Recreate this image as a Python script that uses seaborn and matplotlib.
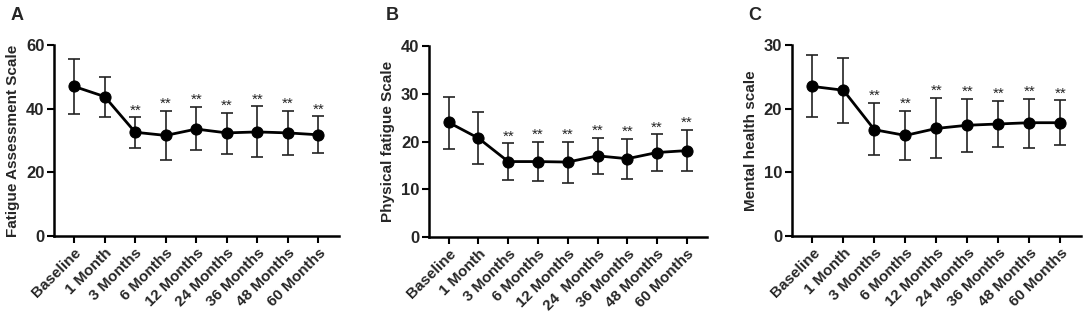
import matplotlib
matplotlib.use("Agg")
import matplotlib.pyplot as plt
import seaborn as sns
import pandas as pd

timepoints = ["Baseline", "1 Month", "3 Months", "6 Months", "12 Months",
              "24 Months", "36 Months", "48 Months", "60 Months"]
# panel B prints "24  Months" with a double space
timepoints_b = ["Baseline", "1 Month", "3 Months", "6 Months", "12 Months",
                "24  Months", "36 Months", "48 Months", "60 Months"]

# Fatigue Assessment Scale
fas_mean = [47.0, 43.8, 32.6, 31.6, 33.6, 32.4, 32.7, 32.4, 31.8]
fas_upper = [55.7, 50.1, 37.3, 39.2, 40.5, 38.8, 40.7, 39.2, 37.6]
fas_lower = [38.3, 37.5, 27.7, 23.9, 26.9, 25.9, 24.7, 25.4, 26.2]

# Physical fatigue Scale
phys_mean = [24.0, 20.7, 15.8, 15.8, 15.7, 17.0, 16.4, 17.7, 18.1]
phys_upper = [29.3, 26.2, 19.6, 19.9, 20.0, 20.7, 20.6, 21.5, 22.4]
phys_lower = [18.5, 15.3, 11.9, 11.7, 11.3, 13.3, 12.2, 13.8, 13.9]

# Mental health scale
ment_mean = [23.5, 22.9, 16.7, 15.8, 16.9, 17.4, 17.6, 17.8, 17.8]
ment_upper = [28.4, 28.0, 20.9, 19.7, 21.7, 21.5, 21.2, 21.5, 21.3]
ment_lower = [18.7, 17.8, 12.8, 12.0, 12.2, 13.2, 14.0, 13.9, 14.3]

# ** marks (p < 0.01 vs baseline)
signif = ["", "", "**", "**", "**", "**", "**", "**", "**"]

sns.set_style("ticks")
plt.rcParams["font.family"] = ["Liberation Sans", "DejaVu Sans"]
plt.rcParams["font.weight"] = "bold"

fig = plt.figure(figsize=(10.84, 3.12), dpi=100)

panels = [
    ("A", "Fatigue Assessment Scale", timepoints, fas_mean, fas_upper, fas_lower,
     60, [0, 20, 40, 60], [0.0498, 0.2436, 0.263, 0.612]),
    ("B", "Physical fatigue Scale", timepoints_b, phys_mean, phys_upper, phys_lower,
     40, [0, 10, 20, 30, 40], [0.3958, 0.2404, 0.2565, 0.612]),
    ("C", "Mental health scale", timepoints, ment_mean, ment_upper, ment_lower,
     30, [0, 10, 20, 30], [0.7306, 0.2436, 0.267, 0.612]),
]

for letter, ylabel, labels, mean, upper, lower, ymax, yticks, rect in panels:
    ax = fig.add_axes(rect)
    df = pd.DataFrame({"pos": range(len(labels)), "mean": mean,
                       "upper": upper, "lower": lower})
    err = [df["mean"] - df["lower"], df["upper"] - df["mean"]]
    ax.errorbar(df["pos"], df["mean"], yerr=err, fmt="none", ecolor="#222222",
                elinewidth=1.2, capsize=4, capthick=1.2, zorder=2)
    sns.lineplot(data=df, x="pos", y="mean", ax=ax, color="black", lw=2,
                 marker="o", markersize=8, markeredgecolor="black", zorder=3)
    for i, s in enumerate(signif):
        if s:
            ax.annotate(s, (df["pos"][i], df["upper"][i]), xytext=(0, 0),
                        textcoords="offset points", ha="center", va="bottom",
                        fontsize=11, fontweight="normal")

    ax.set_xlim(-0.66, len(labels) - 1 + 0.68)
    ax.set_ylim(0, ymax)
    ax.set_yticks(yticks)
    ax.set_xticks(range(len(labels)))
    ax.set_xticklabels(labels, rotation=45, ha="right", rotation_mode="anchor",
                       fontsize=11, fontweight="bold")
    ax.tick_params(axis="y", labelsize=12)
    ax.tick_params(width=1.5, length=5, color="black", pad=2)
    ax.set_xlabel("")
    ax.set_ylabel(ylabel, fontsize=11, fontweight="bold", labelpad=4)
    for sp in ["left", "bottom"]:
        ax.spines[sp].set_linewidth(1.8)
        ax.spines[sp].set_color("black")
    sns.despine(ax=ax)
    fig.text(rect[0] - 0.040, 0.95, letter, fontsize=13, fontweight="bold",
             va="center", ha="left")

fig.savefig("out.png", dpi=100)
